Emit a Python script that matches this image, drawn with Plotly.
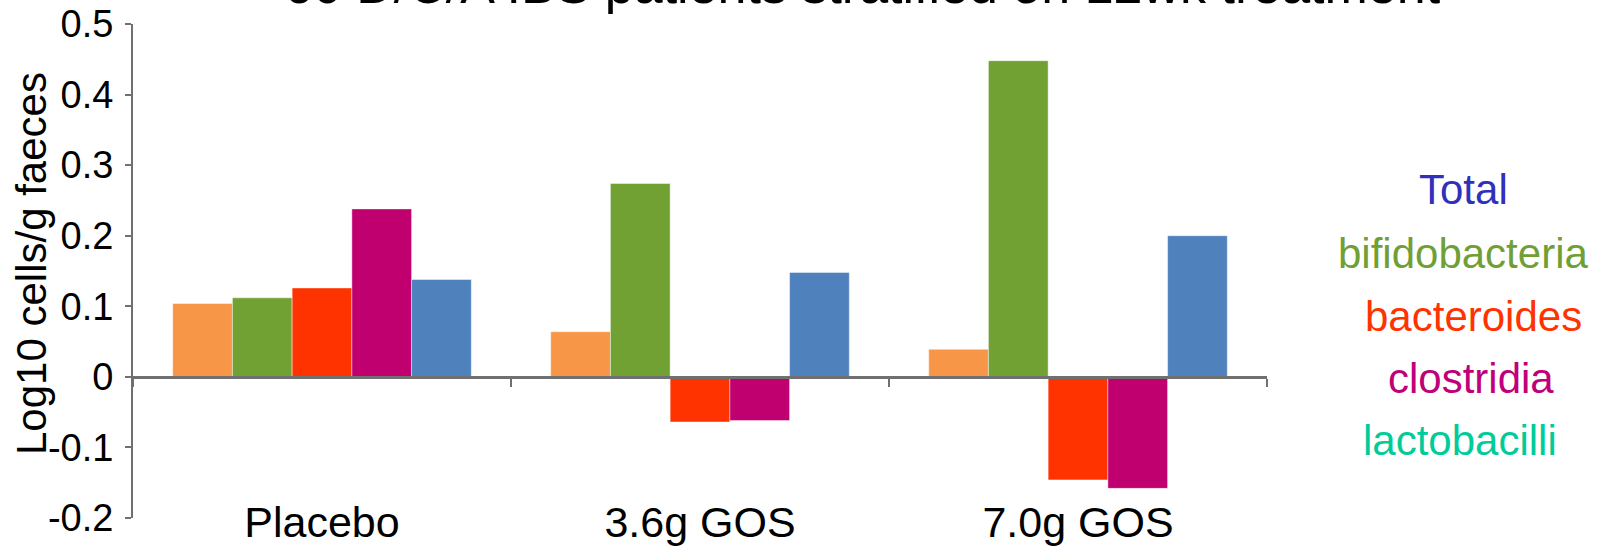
import plotly.graph_objects as go

# ---- data -------------------------------------------------------------
groups = ["Placebo", "3.6g GOS", "7.0g GOS"]
series_names = ["Total", "bifidobacteria", "bacteroides", "clostridia", "lactobacilli"]
total = [0.104, 0.064, 0.039]
bifidobacteria = [0.112, 0.274, 0.448]
bacteroides = [0.126, -0.064, -0.146]
clostridia = [0.238, -0.062, -0.158]
lactobacilli = [0.138, 0.148, 0.200]
y_ticks = [-0.2, -0.1, 0, 0.1, 0.2, 0.3, 0.4, 0.5]
y_tick_text = ["-0.2", "-0.1", "0", "0.1", "0.2", "0.3", "0.4", "0.5"]
title_text = "60 D/C/A IBS patients stratified on 12wk treatment"
y_title = "Log10 cells/g faeces"

# ---- styling ----------------------------------------------------------
W, H = 1602, 547
L, R, T, B = 133, 1267, 24, 518
Y_RANGE = [-0.2, 0.5]
FONT = "Liberation Sans, Arial, sans-serif"
AXIS_GREY = "#707070"

bar_colors = ["#F79646", "#71A033", "#FF3300", "#BF006E", "#4F81BD"]
label_colors = ["#3030BC", "#70A035", "#FF3300", "#C0007A", "#00CC99"]


def paper_x(px):
    return (px - L) / (R - L)


def paper_y(py):
    return (B - py) / (B - T)


fig = go.Figure()
for name, vals, col in zip(series_names,
                           [total, bifidobacteria, bacteroides, clostridia, lactobacilli],
                           bar_colors):
    fig.add_trace(go.Bar(
        x=groups, y=vals, name=name,
        marker=dict(color=col, line=dict(color="rgba(255,255,255,0.45)", width=1)),
        showlegend=False,
    ))

# coloured series names on the right
legend_pos = [(1463, 190), (1463, 253), (1473, 316), (1471, 378), (1460, 440)]
annotations = []
for name, col, (px, py) in zip(series_names, label_colors, legend_pos):
    annotations.append(dict(
        text=name, x=paper_x(px), y=paper_y(py), xref="paper", yref="paper",
        xanchor="center", yanchor="middle", showarrow=False,
        font=dict(family=FONT, size=42, color=col),
    ))

# y-axis title
annotations.append(dict(
    text=y_title, x=paper_x(31), y=paper_y(264), xref="paper", yref="paper",
    xanchor="center", yanchor="middle", showarrow=False, textangle=-90,
    font=dict(family=FONT, size=42, color="black"),
))

# heading (runs off the top edge)
annotations.append(dict(
    text=title_text, x=paper_x(862), y=paper_y(-15), xref="paper", yref="paper",
    xanchor="center", yanchor="middle", showarrow=False,
    font=dict(family=FONT, size=52, color="black"),
))

zero_pos = (0 - Y_RANGE[0]) / (Y_RANGE[1] - Y_RANGE[0])

fig.update_layout(
    width=W, height=H,
    margin=dict(l=L, r=W - R, t=T, b=H - B, pad=0, autoexpand=False),
    paper_bgcolor="white", plot_bgcolor="white",
    barmode="group", bargap=0.21, bargroupgap=0,
    font=dict(family=FONT, color="black"),
    annotations=annotations,
    xaxis=dict(
        type="category", categoryorder="array", categoryarray=groups,
        range=[-0.5, 2.5], anchor="free", position=zero_pos,
        showline=True, linecolor=AXIS_GREY, linewidth=2.5,
        ticks="outside", tickson="boundaries", ticklen=8, tickwidth=2, tickcolor=AXIS_GREY,
        tickfont=dict(family=FONT, size=43, color="black"),
        ticklabelstandoff=107,
        showgrid=False, zeroline=False, automargin=False,
    ),
    yaxis=dict(
        range=Y_RANGE, tickvals=y_ticks, ticktext=y_tick_text,
        showline=True, linecolor=AXIS_GREY, linewidth=2,
        ticks="outside", ticklen=6, tickwidth=2, tickcolor=AXIS_GREY,
        tickfont=dict(family=FONT, size=38, color="black"),
        ticklabelstandoff=4,
        showgrid=False, zeroline=False, automargin=False,
    ),
)

fig.write_html("out.html")
